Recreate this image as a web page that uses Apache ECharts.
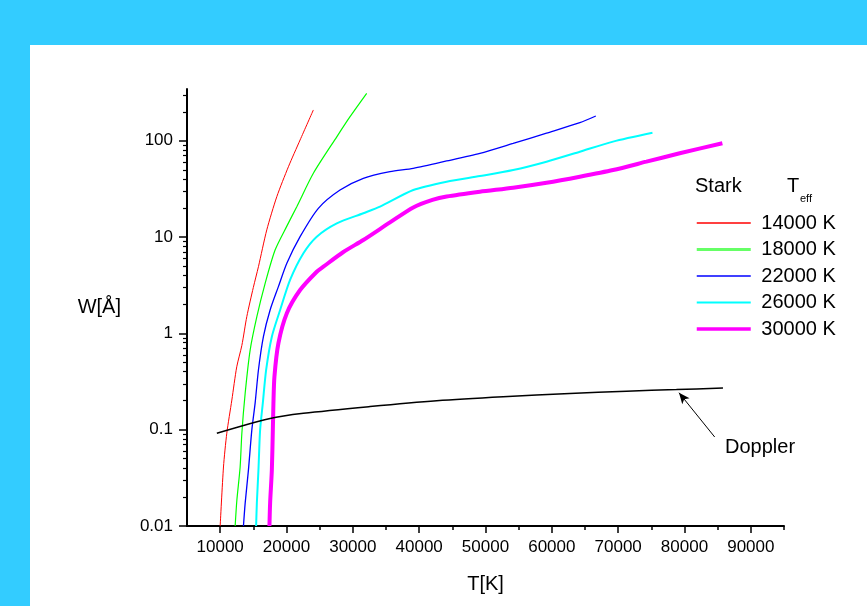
<!DOCTYPE html>
<html>
<head>
<meta charset="utf-8">
<title>Stark and Doppler widths</title>
<script src="https://cdn.jsdelivr.net/npm/echarts@6/dist/echarts.min.js"></script>
<style>
  html, body { margin: 0; padding: 0; background: #33CCFF; overflow: hidden; }
  #panel { position: absolute; left: 30px; top: 45px; right: 0; bottom: 0; background: #ffffff; }
  #chart { position: absolute; left: 0; top: 0; width: 867px; height: 606px; }
</style>
</head>
<body>
<div id="panel"></div>
<div id="chart"></div>
<script>
// Equivalent widths W (Å) against temperature T (K)
const tempStark14000 = [10000, 10500, 11000, 11760, 12500, 13270, 14020, 15000, 15770, 17030, 18540, 20290, 22050, 24050];
const widthStark14000 = [0.01, 0.041, 0.092, 0.203, 0.45, 0.75, 1.5, 3.0, 4.93, 11.9, 26.3, 53.8, 102, 209];

const tempStark18000 = [12260, 12520, 13010, 13270, 13770, 14520, 15530, 16780, 18280, 20050, 21550, 24050, 27580, 29580, 32090];
const widthStark18000 = [0.01, 0.0186, 0.041, 0.092, 0.239, 0.67, 1.49, 3.31, 7.35, 13.0, 20.7, 46, 110, 178, 311];

const tempStark22000 = [13510, 13770, 14260, 14770, 15270, 15770, 16520, 17530, 18780, 20050, 22050, 24800, 28070, 31580, 35600, 39110, 44140, 49160, 54170, 59200, 64220, 66630];
const widthStark22000 = [0.01, 0.0173, 0.038, 0.099, 0.189, 0.417, 0.925, 1.75, 3.06, 5.35, 10.1, 19.9, 30.8, 40.8, 47.8, 51.8, 61.7, 74.2, 94, 120, 154, 181];

const tempStark26000 = [15420, 15530, 15770, 16020, 16430, 16930, 17790, 19040, 20540, 22550, 24560, 27580, 31580, 34100, 39110, 44140, 49160, 54170, 59200, 64220, 69230, 75170];
const widthStark26000 = [0.01, 0.0173, 0.038, 0.099, 0.189, 0.417, 0.925, 1.75, 3.59, 6.79, 10.1, 13.9, 17.7, 20.7, 30.8, 37.6, 43, 49.7, 60.7, 77, 98, 121];

const tempStark30000 = [17430, 17530, 17790, 17940, 18030, 18180, 18780, 20050, 22050, 24560, 25560, 28570, 31580, 35600, 39110, 42000, 44140, 49160, 54170, 59200, 64220, 69230, 74260, 79280, 85710];
const widthStark30000 = [0.01, 0.0173, 0.038, 0.099, 0.189, 0.355, 0.79, 1.62, 2.82, 4.37, 4.93, 7.0, 9.33, 14.2, 20.3, 24.3, 26.4, 29.6, 32.6, 36.7, 42.4, 49.7, 60.7, 74.2, 94.2];

const tempDoppler = [9500, 17530, 22550, 32590, 42640, 52670, 62710, 71250, 78780, 85800];
const widthDoppler = [0.092, 0.131, 0.148, 0.174, 0.2, 0.22, 0.237, 0.251, 0.261, 0.271];

const seriesNames = ['14000 K', '18000 K', '22000 K', '26000 K', '30000 K'];
const seriesColors = ['#ff0000', '#00ff00', '#0000ff', '#00ffff', '#ff00ff'];
const seriesWidths = [1, 1.2, 1.3, 2, 4];
const legendWidths = [1.3, 3, 1.3, 2, 3.5];
const legendColors = ['#ff0000', '#66ff66', '#0000ff', '#00ffff', '#ff00ff'];

const xMajorTicks = [10000, 20000, 30000, 40000, 50000, 60000, 70000, 80000, 90000];
const xMinorTicks = [15000, 25000, 35000, 45000, 55000, 65000, 75000, 85000, 95000];
const yMajorTicks = [0.01, 0.1, 1, 10, 100];
const yMinorTicks = [0.02, 0.03, 0.04, 0.05, 0.06, 0.07, 0.08, 0.09,
                     0.2, 0.3, 0.4, 0.5, 0.6, 0.7, 0.8, 0.9,
                     2, 3, 4, 5, 6, 7, 8, 9,
                     20, 30, 40, 50, 60, 70, 80, 90,
                     200, 300];

// Doppler arrow: tail near the label, head on the curve
const arrowTail = [84550, 0.084];
const arrowHead = [79170, 0.242];

const X_MIN = 5000, X_MAX = 95000;
const Y_MIN = 0.01, Y_MAX = 345;

const FONT = '"Liberation Sans", Arial, sans-serif';

const zip = (xs, ys) => xs.map((x, i) => [x, ys[i]]);
const starkData = [
  zip(tempStark14000, widthStark14000),
  zip(tempStark18000, widthStark18000),
  zip(tempStark22000, widthStark22000),
  zip(tempStark26000, widthStark26000),
  zip(tempStark30000, widthStark30000)
];

const chart = echarts.init(document.getElementById('chart'), null, { renderer: 'canvas' });

const series = starkData.map((d, i) => ({
  name: seriesNames[i],
  type: 'line',
  data: d,
  symbol: 'none',
  smooth: 0.25,
  clip: true,
  lineStyle: { color: seriesColors[i], width: seriesWidths[i] },
  itemStyle: { color: seriesColors[i] },
  z: 3 + i
}));

series.push({
  name: 'Doppler',
  type: 'line',
  data: zip(tempDoppler, widthDoppler),
  symbol: 'none',
  smooth: 0.3,
  lineStyle: { color: '#000000', width: 1.5 },
  itemStyle: { color: '#000000' },
  z: 10,
  markLine: {
    silent: true,
    symbol: ['none', 'arrow'],
    symbolSize: [7, 11],
    label: { show: false },
    lineStyle: { color: '#000000', width: 1, type: 'solid' },
    data: [[{ coord: arrowTail }, { coord: arrowHead }]]
  }
});

chart.setOption({
  animation: false,
  backgroundColor: 'transparent',
  textStyle: { fontFamily: FONT },
  grid: { left: 187, top: 89, width: 597, height: 437, containLabel: false },
  xAxis: [{
    type: 'value',
    min: X_MIN, max: X_MAX,
    name: 'T[K]',
    nameLocation: 'middle',
    nameGap: 48,
    nameTextStyle: { fontSize: 20, color: '#000', fontFamily: FONT },
    axisLine: { show: true, lineStyle: { color: '#000', width: 2 } },
    axisTick: { show: true, customValues: xMajorTicks, length: 7, inside: false, lineStyle: { color: '#000', width: 1.5 } },
    axisLabel: { customValues: xMajorTicks, fontSize: 17, color: '#000', margin: 13, fontFamily: FONT, formatter: v => String(v) },
    splitLine: { show: false }
  }, {
    type: 'value',
    min: X_MIN, max: X_MAX,
    position: 'bottom',
    axisLine: { show: false },
    axisTick: { show: true, customValues: xMinorTicks, length: 4, lineStyle: { color: '#000', width: 1.5 } },
    axisLabel: { show: false },
    splitLine: { show: false }
  }],
  yAxis: [{
    type: 'log',
    logBase: 10,
    min: Y_MIN, max: Y_MAX,
    name: 'W[Å]',
    nameLocation: 'middle',
    nameRotate: 0,
    nameGap: 66,
    nameTextStyle: { fontSize: 20, color: '#000', fontFamily: FONT },
    axisLine: { show: true, lineStyle: { color: '#000', width: 2 } },
    axisTick: { show: true, customValues: yMajorTicks, length: 8, lineStyle: { color: '#000', width: 1.5 } },
    axisLabel: {
      customValues: yMajorTicks, fontSize: 17, color: '#000', margin: 14, fontFamily: FONT,
      formatter: v => String(v)
    },
    splitLine: { show: false }
  }, {
    type: 'log',
    logBase: 10,
    min: Y_MIN, max: Y_MAX,
    position: 'left',
    axisLine: { show: false },
    axisTick: { show: true, customValues: yMinorTicks, length: 4, lineStyle: { color: '#000', width: 1.2 } },
    axisLabel: { show: false },
    splitLine: { show: false }
  }],
  legend: {
    orient: 'vertical',
    left: 695,
    top: 213,
    padding: 0,
    itemWidth: 54,
    itemHeight: 20,
    itemGap: 6.5,
    selectedMode: false,
    textStyle: { fontSize: 20, lineHeight: 20, color: '#000', fontFamily: FONT },
    formatter: name => ' ' + name,
    data: seriesNames.map((n, i) => ({
      name: n,
      itemStyle: { color: legendColors[i], opacity: 0 },
      lineStyle: { color: legendColors[i], width: legendWidths[i], opacity: 1 }
    }))
  },
  graphic: [
    {
      type: 'text', left: 695, top: 176,
      style: { text: 'Stark', fontSize: 20, fill: '#000', fontFamily: FONT }
    },
    {
      type: 'text', left: 787, top: 176,
      style: { text: 'T', fontSize: 20, fill: '#000', fontFamily: FONT }
    },
    {
      type: 'text', left: 800, top: 193,
      style: { text: 'eff', fontSize: 11, fill: '#000', fontFamily: FONT }
    },
    {
      type: 'text', left: 725, top: 437,
      style: { text: 'Doppler', fontSize: 20, fill: '#000', fontFamily: FONT }
    }
  ],
  series: series
});
</script>
</body>
</html>
